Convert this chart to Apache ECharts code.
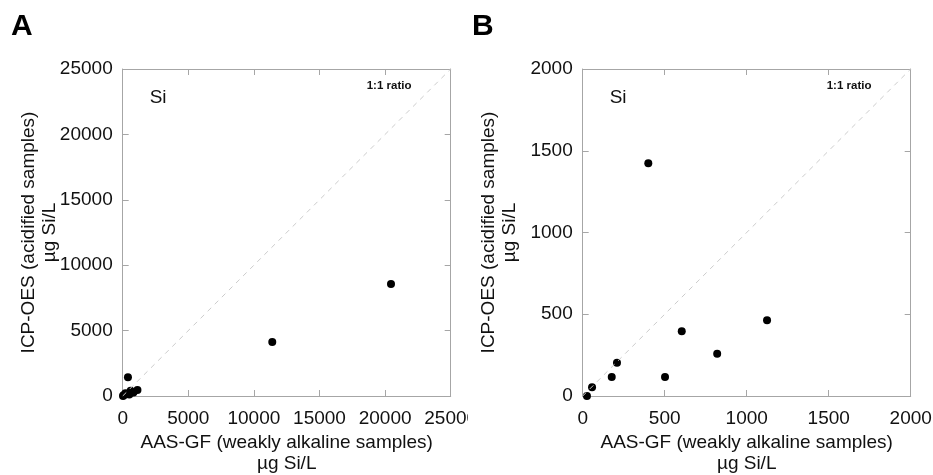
<!DOCTYPE html>
<html><head><meta charset="utf-8">
<script src="https://cdn.jsdelivr.net/npm/echarts@6/dist/echarts.min.js"></script>
<style>
html,body{margin:0;padding:0;background:#fff;}
#wrap{position:relative;width:933px;height:475px;overflow:hidden;}
#a{position:absolute;left:0;top:0;width:468px;height:475px;}
#b{position:absolute;left:466px;top:0;width:467px;height:475px;}
</style></head>
<body><div id="wrap"><div id="a"></div><div id="b"></div></div>
<script>
// Data: small-concentration samples (shown in both panels)
const lowX = [26, 57, 177, 209, 400, 502, 604, 820, 1124];
const lowY = [0, 54, 116, 204, 1424, 116, 396, 259, 463];
// High-concentration samples (panel A only)
const highX = [11400, 20450];
const highY = [4130, 8570];
// Axis ranges / ticks
const axisA = {min: 0, max: 25000, interval: 5000};
const axisB = {min: 0, max: 2000, interval: 500};
const xTitle = 'AAS-GF (weakly alkaline samples)\nµg Si/L';
const yTitle = 'ICP-OES (acidified samples)\nµg Si/L';
const elementLabel = 'Si';
const ratioLabel = '1:1 ratio';
const panelLabels = ['A', 'B'];

const FONT = '"Liberation Sans", Arial, sans-serif';
const AXC = '#a6a6a6';

function makeOption(ax, pts, gridLeft, panel) {
  const diag = [[ax.min, ax.min], [ax.max, ax.max]];
  const baseAxis = {
    type: 'value', min: ax.min, max: ax.max, interval: ax.interval,
    axisLine: {show: true, onZero: false, lineStyle: {color: AXC, width: 1}},
    axisTick: {show: true, inside: true, length: 6, lineStyle: {color: AXC}},
    splitLine: {show: false},
  };
  const labelStyle = {color: '#111', fontSize: 19, fontFamily: FONT, formatter: v => String(v)};
  return {
    animation: false,
    grid: {left: gridLeft, top: 69, width: 328, height: 327, containLabel: false, outerBoundsMode: 'none'},
    xAxis: [
      Object.assign({}, baseAxis, {position: 'bottom',
        axisLabel: Object.assign({margin: 13}, labelStyle),
        name: xTitle, nameLocation: 'middle', nameGap: 36, nameMoveOverlap: false,
        nameTextStyle: {color: '#111', fontSize: 19, fontFamily: FONT, lineHeight: 21}}),
      Object.assign({}, baseAxis, {position: 'top', axisLabel: {show: false}})
    ],
    yAxis: [
      Object.assign({}, baseAxis, {position: 'left',
        axisLabel: Object.assign({margin: 10}, labelStyle),
        name: yTitle, nameLocation: 'middle', nameGap: 62, nameRotate: 90, nameMoveOverlap: false,
        nameTextStyle: {color: '#111', fontSize: 19, fontFamily: FONT, lineHeight: 21}}),
      Object.assign({}, baseAxis, {position: 'right', axisLabel: {show: false}})
    ],
    graphic: [
      {type: 'text', left: panel === 'A' ? 11 : 6, top: 12,
        style: {text: panel, font: 'bold 30px ' + FONT, fill: '#000'}},
      {type: 'text', left: gridLeft + 27, top: 88,
        style: {text: elementLabel, font: '19px ' + FONT, fill: '#111'}},
      {type: 'text', left: gridLeft + 244, top: 80,
        style: {text: ratioLabel, font: 'bold 11.5px ' + FONT, fill: '#111'}}
    ],
    series: [
      {type: 'line', data: diag, symbol: 'none', silent: true,
        lineStyle: {color: '#cccccc', width: 1, type: [5, 5]}},
      {type: 'scatter', data: pts, symbol: 'circle', symbolSize: 8,
        itemStyle: {color: '#000', opacity: 1}}
    ]
  };
}

const ptsB = lowX.map((x, i) => [x, lowY[i]]);
const ptsA = ptsB.concat(highX.map((x, i) => [x, highY[i]]));

echarts.init(document.getElementById('a'), null, {renderer: 'canvas'})
  .setOption(makeOption(axisA, ptsA, 122.7, panelLabels[0]));
echarts.init(document.getElementById('b'), null, {renderer: 'canvas'})
  .setOption(makeOption(axisB, ptsB, 116.7, panelLabels[1]));
</script></body></html>
